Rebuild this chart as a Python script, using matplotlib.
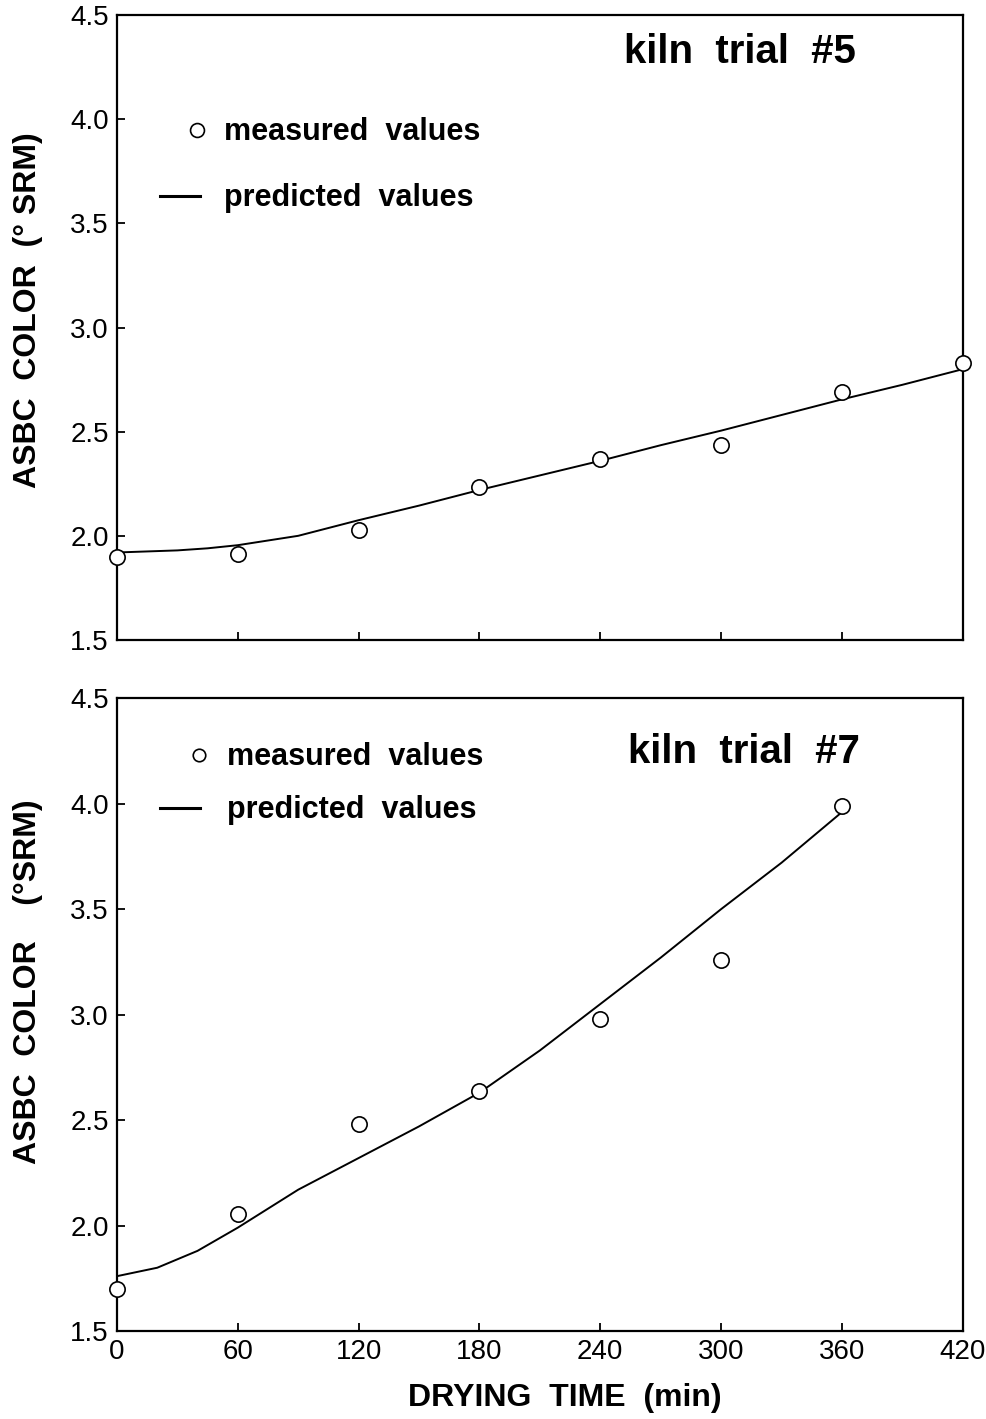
import numpy as np
import matplotlib
matplotlib.use("Agg")
import matplotlib.pyplot as plt

plt.rcParams['font.family'] = ['Liberation Sans', 'DejaVu Sans']

# measured colour at each sampling time (min)
t_meas5 = [0, 60, 120, 180, 240, 300, 360, 420]
c_meas5 = [1.90, 1.915, 2.03, 2.235, 2.37, 2.435, 2.69, 2.83]
t_meas7 = [0, 60, 120, 180, 240, 300, 360]
c_meas7 = [1.70, 2.055, 2.48, 2.64, 2.98, 3.26, 3.99]

# model prediction
t_pred5 = [0, 15, 30, 45, 60, 90, 120, 150, 180, 210, 240, 270, 300, 330, 360, 390, 420]
c_pred5 = [1.92, 1.925, 1.93, 1.94, 1.955, 2.00, 2.075, 2.145, 2.22, 2.29, 2.36, 2.435, 2.505, 2.58, 2.655, 2.725, 2.80]
t_pred7 = [0, 20, 40, 60, 90, 120, 150, 180, 210, 240, 270, 300, 330, 360]
c_pred7 = [1.76, 1.80, 1.88, 1.99, 2.17, 2.32, 2.47, 2.63, 2.83, 3.05, 3.27, 3.50, 3.72, 3.96]

xticks = [0, 60, 120, 180, 240, 300, 360, 420]
yticks = [1.5, 2.0, 2.5, 3.0, 3.5, 4.0, 4.5]

fig = plt.figure(figsize=(9.87, 14.19), dpi=100)
ax5 = fig.add_axes([0.1185, 0.549, 0.857, 0.4404])
ax7 = fig.add_axes([0.1185, 0.062, 0.857, 0.446])

bold = dict(fontweight='bold', color='black')


def style(ax, show_x):
    ax.set_xlim(0, 420)
    ax.set_ylim(1.5, 4.5)
    ax.set_xticks(xticks)
    ax.set_yticks(yticks)
    ax.set_yticklabels(["{:.1f}".format(v) for v in yticks])
    ax.tick_params(direction='in', length=6, width=1.3, labelsize=20,
                   top=False, right=False, pad=6)
    if not show_x:
        ax.set_xticklabels([])
    for s in ax.spines.values():
        s.set_linewidth(1.6)


for ax, tm, cm, tp, cp in [(ax5, t_meas5, c_meas5, t_pred5, c_pred5),
                           (ax7, t_meas7, c_meas7, t_pred7, c_pred7)]:
    ax.plot(tp, cp, color='black', lw=1.4, zorder=2)
    ax.plot(tm, cm, 'o', ms=11, mfc='white', mec='black', mew=1.2,
            clip_on=False, zorder=3)

style(ax5, False)
style(ax7, True)

# legends drawn by hand
ax5.plot([0.0946], [0.816], 'o', ms=10, mfc='white', mec='black', mew=1.2,
         transform=ax5.transAxes)
ax5.plot([0.051, 0.098], [0.710, 0.710], color='black', lw=2.2,
         transform=ax5.transAxes)
ax5.text(0.126, 0.813, "measured  values", fontsize=22, va='center',
         transform=ax5.transAxes, **bold)
ax5.text(0.126, 0.707, "predicted  values", fontsize=22, va='center',
         transform=ax5.transAxes, **bold)
ax5.text(0.600, 0.941, "kiln  trial  #5", fontsize=29, va='center',
         transform=ax5.transAxes, **bold)

ax7.plot([0.097], [0.910], 'o', ms=9, mfc='white', mec='black', mew=1.2,
         transform=ax7.transAxes)
ax7.plot([0.051, 0.098], [0.826, 0.826], color='black', lw=2.2,
         transform=ax7.transAxes)
ax7.text(0.130, 0.907, "measured  values", fontsize=22, va='center',
         transform=ax7.transAxes, **bold)
ax7.text(0.130, 0.823, "predicted  values", fontsize=22, va='center',
         transform=ax7.transAxes, **bold)
ax7.text(0.604, 0.915, "kiln  trial  #7", fontsize=29, va='center',
         transform=ax7.transAxes, **bold)

fig.text(0.028, 0.7815, "ASBC  COLOR  (° SRM)", rotation=90, fontsize=23,
         ha='center', va='center', **bold)
fig.text(0.028, 0.308, "ASBC  COLOR    (°SRM)", rotation=90, fontsize=23,
         ha='center', va='center', **bold)
fig.text(0.572, 0.015, "DRYING  TIME  (min)", fontsize=23,
         ha='center', va='center', **bold)

fig.savefig('out.png', dpi=100)
